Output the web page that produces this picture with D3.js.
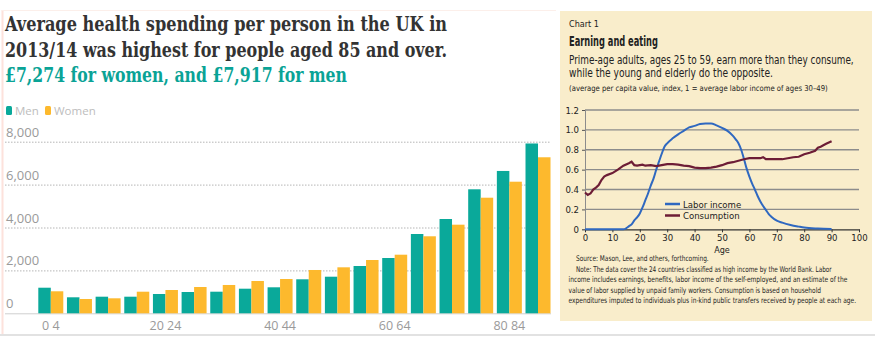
<!DOCTYPE html>
<html>
<head>
<meta charset="utf-8">
<script src="https://cdn.jsdelivr.net/npm/d3@7"></script>
<style>
  body { margin: 0; background: #fff; }
  svg { display: block; }
</style>
</head>
<body>
<svg class="chart"></svg>
<script>
// left chart: UK health spending by age group
var ageGroups = ["0-4","5-9","10-14","15-19","20-24","25-29","30-34","35-39","40-44",
                 "45-49","50-54","55-59","60-64","65-69","70-74","75-79","80-84","85+"];
var menSpend   = [1193, 746, 774, 774, 900, 993, 1007, 1147, 1212,
                  1585, 1706, 2205, 2578, 3697, 4396, 5781, 6636, 7917];
var womenSpend = [1026, 667, 699, 1007, 1086, 1226, 1320, 1506, 1599,
                  2019, 2144, 2485, 2732, 3590, 4131, 5389, 6135, 7274];
var spendTicks = [0, 2000, 4000, 6000, 8000];
var ageTickLabels = {"0-4": "0 4", "20-24": "20 24", "40-44": "40 44", "60-64": "60 64", "80-84": "80 84"};
var seriesNames = ["Men", "Women"];

// right chart: labor income and consumption by age
var laborAge    = [0, 14, 15, 16, 17, 18, 19, 20, 21, 22, 23, 24, 25, 26, 27, 28, 29, 30, 32, 34, 36, 38,
                   40, 42, 44, 46, 48, 50, 52, 54, 55, 56, 57, 58, 59, 60, 61, 62, 63, 64, 65, 66,
                   67, 68, 70, 72, 75, 78, 80, 85, 90];
var laborIncome = [0, 0, 0.01, 0.03, 0.05, 0.09, 0.12, 0.16, 0.22, 0.29, 0.36, 0.44, 0.51, 0.60, 0.68,
                   0.76, 0.83, 0.865, 0.915, 0.955, 0.99, 1.025, 1.04, 1.06, 1.065, 1.065, 1.045, 1.02,
                   0.99, 0.94, 0.905, 0.865, 0.80, 0.71, 0.61, 0.53, 0.46, 0.40, 0.335, 0.28, 0.235,
                   0.195, 0.155, 0.127, 0.087, 0.067, 0.044, 0.027, 0.017, 0.007, 0.003];
var consAge     = [0, 1, 2, 3, 4, 5, 6, 7, 8, 10, 12, 14, 16, 17, 18, 19, 20, 21, 22, 24, 26, 28, 30,
                   32, 34, 36, 38, 40, 42, 44, 46, 48, 50, 52, 54, 56, 58, 60, 62, 64, 65, 66, 68,
                   70, 72, 74, 76, 78, 80, 82, 84, 85, 86, 88, 90];
var consumption = [0.37, 0.345, 0.36, 0.40, 0.42, 0.445, 0.495, 0.53, 0.545, 0.565, 0.60, 0.64, 0.665,
                   0.68, 0.645, 0.64, 0.645, 0.65, 0.64, 0.645, 0.635, 0.645, 0.655, 0.655, 0.65, 0.64,
                   0.635, 0.62, 0.615, 0.615, 0.62, 0.63, 0.645, 0.665, 0.675, 0.69, 0.705, 0.715,
                   0.715, 0.715, 0.725, 0.705, 0.705, 0.705, 0.705, 0.715, 0.725, 0.73, 0.755, 0.77,
                   0.79, 0.82, 0.83, 0.86, 0.885];
var indexTicks = [0, 0.2, 0.4, 0.6, 0.8, 1.0, 1.2];
var ageTicks = [0, 10, 20, 30, 40, 50, 60, 70, 80, 90, 100];

var screen = { //the size of svg
  width: 875,
  height: 340
}

var svg = d3.select(".chart")
            .attr("width", screen.width)
            .attr("height", screen.height)

// squeeze a text sideways so it takes the width the reference gives it
var fitWidth = function(sel)
{
  sel.each(function(d) {
    var w = this.getComputedTextLength();
    d3.select(this)
      .attr("transform", "translate(" + d.x + "," + d.y + ") scale(" + (d.len / w) + ",1)");
  });
}

var drawSpendingChart = function()
{
  var colors = d3.scaleOrdinal()
                 .domain(seriesNames)
                 .range(["#0aa99a", "#fdb92d"]);

  var xScale = d3.scaleBand()
                 .domain(ageGroups)
                 .range([38.3, 550.5])
                 .paddingInner(0.128);

  var subScale = d3.scaleBand()
                   .domain(seriesNames)
                   .range([0, xScale.bandwidth()]);

  var yScale = d3.scaleLinear()
                 .domain([0, 8000])
                 .range([313.3, 141.7]);

  // frame lines round the left panel
  svg.append("line")
     .attr("x1", 2.5).attr("x2", 2.5).attr("y1", 10).attr("y2", 335)
     .attr("stroke", "#fde2dc").attr("stroke-width", 2);
  svg.append("line")
     .attr("x1", 2).attr("x2", 556).attr("y1", 10.5).attr("y2", 10.5)
     .attr("stroke", "#fcefea").attr("stroke-width", 1);
  svg.append("line")
     .attr("x1", 0).attr("x2", 875).attr("y1", 335).attr("y2", 335)
     .attr("stroke", "#e2e2e2").attr("stroke-width", 2);

  // titles
  var titles = [
    {text: "Average health spending per person in the UK in", y: 31, fill: "#333", len: 442},
    {text: "2013/14 was highest for people aged 85 and over.", y: 57, fill: "#333", len: 442},
    {text: "£7,274 for women, and £7,917 for men", y: 82, fill: "#0aa396", len: 342}
  ];
  svg.append("g")
     .selectAll("text")
     .data(titles)
     .enter()
     .append("text")
     .attr("x", 5)
     .attr("y", function(d) {return d.y;})
     .attr("fill", function(d) {return d.fill;})
     .attr("textLength", function(d) {return d.len;})
     .attr("lengthAdjust", "spacingAndGlyphs")
     .style("font-family", "'DejaVu Serif Condensed', 'DejaVu Serif', serif")
     .style("font-weight", "bold")
     .style("font-size", "20px")
     .text(function(d) {return d.text;});

  // legend
  var legend = svg.append("g")
                  .selectAll("g")
                  .data(seriesNames)
                  .enter()
                  .append("g")
                  .attr("transform", function(d, i) {return "translate(" + (6 + i * 39) + ",0)";});
  legend.append("rect")
        .attr("x", 0).attr("y", 106).attr("width", 6).attr("height", 9).attr("rx", 1.5)
        .attr("fill", function(d) {return colors(d);});
  legend.append("text")
        .attr("x", 9).attr("y", 115)
        .attr("fill", "#bdbdbd")
        .style("font-family", "'Open Sans', sans-serif")
        .style("font-size", "11.5px")
        .text(function(d) {return d;});

  // gridlines and y labels
  var grid = svg.append("g")
                .classed("grid", true)
                .selectAll("g")
                .data(spendTicks)
                .enter()
                .append("g");
  grid.append("line")
      .attr("x1", 5).attr("x2", 551)
      .attr("y1", function(d) {return yScale(d) + 0.5;})
      .attr("y2", function(d) {return yScale(d) + 0.5;})
      .attr("stroke", function(d) {return d == 0 ? "#cfcfcf" : "#b5b5b5";})
      .attr("stroke-dasharray", function(d) {return d == 0 ? null : "1.5,1.5";});
  grid.append("text")
      .attr("x", 6)
      .attr("y", function(d) {return yScale(d) - 5;})
      .attr("fill", "#9a9a9a")
      .style("font-family", "'Open Sans', sans-serif")
      .style("font-size", "13px")
      .text(function(d) {return d3.format(",")(d);});

  // bars
  var groups = svg.append("g")
                  .classed("bars", true)
                  .selectAll("g")
                  .data(ageGroups)
                  .enter()
                  .append("g")
                  .attr("transform", function(d) {return "translate(" + xScale(d) + ",0)";});
  groups.selectAll("rect")
        .data(function(d, i) {return [{key: "Men", value: menSpend[i]}, {key: "Women", value: womenSpend[i]}];})
        .enter()
        .append("rect")
        .attr("x", function(d) {return subScale(d.key);})
        .attr("y", function(d) {return yScale(d.value);})
        .attr("width", subScale.bandwidth())
        .attr("height", function(d) {return yScale(0) - yScale(d.value);})
        .attr("fill", function(d) {return colors(d.key);});

  // x labels (every fourth group)
  var xAxis = d3.axisBottom(xScale)
                .tickValues(Object.keys(ageTickLabels))
                .tickFormat(function(d) {return ageTickLabels[d];})
                .tickSize(0)
                .tickPadding(8);
  var xg = svg.append("g")
              .attr("transform", "translate(0,313.3)")
              .call(xAxis);
  xg.select(".domain").remove();
  xg.selectAll("text")
    .attr("fill", "#9a9a9a")
    .style("font-family", "'Open Sans', sans-serif")
    .style("font-size", "12.5px");
}

var drawEarningChart = function()
{
  var xScale = d3.scaleLinear()
                 .domain([0, 100])
                 .range([585, 859]);

  var yScale = d3.scaleLinear()
                 .domain([0, 1.2])
                 .range([229.3, 110]);

  var font = "'Liberation Sans Narrow', 'DejaVu Sans Condensed', sans-serif";

  svg.append("rect")
     .attr("x", 560).attr("y", 11).attr("width", 312).attr("height", 310)
     .attr("fill", "#f9edcb");

  var heads = [
    {text: "Chart 1", x: 569, y: 27, size: 8.5, weight: "normal", len: 30},
    {text: "Earning and eating", x: 569, y: 46, size: 14, weight: "bold", len: 89},
    {text: "Prime-age adults, ages 25 to 59, earn more than they consume,", x: 569, y: 64, size: 11.5, weight: "normal", len: 285},
    {text: "while the young and elderly do the opposite.", x: 569, y: 76.5, size: 11.5, weight: "normal", len: 204},
    {text: "(average per capita value, index, 1 = average labor income of ages 30\u201349)", x: 569, y: 91, size: 8, weight: "normal", len: 259}
  ];
  svg.append("g")
     .selectAll("text")
     .data(heads)
     .enter()
     .append("text")
     .attr("fill", "#222")
     .style("font-family", font)
     .style("font-size", function(d) {return d.size + "px";})
     .style("font-weight", function(d) {return d.weight;})
     .text(function(d) {return d.text;})
     .call(fitWidth);

  // gridlines
  svg.append("g")
     .selectAll("line")
     .data(indexTicks.slice(1))
     .enter()
     .append("line")
     .attr("x1", xScale(0)).attr("x2", xScale(100))
     .attr("y1", function(d) {return yScale(d);})
     .attr("y2", function(d) {return yScale(d);})
     .attr("stroke", "#8c8c8c")
     .attr("stroke-width", 1.4);

  // y-axis
  var yAxis = d3.axisLeft(yScale)
                .tickValues(indexTicks)
                .tickFormat(function(d) {return d == 0 ? "0" : d3.format(".1f")(d);})
                .tickSize(3);
  var yg = svg.append("g")
              .attr("transform", "translate(" + xScale(0) + ",0)")
              .call(yAxis);
  yg.select(".domain").attr("stroke", "#8c8c8c");
  yg.selectAll(".tick line").attr("stroke", "#555");
  yg.selectAll("text").attr("fill", "#222").style("font-family", font).style("font-size", "9.5px");

  // x-axis
  var xAxis = d3.axisBottom(xScale)
                .tickValues(ageTicks)
                .tickSize(3)
                .tickSizeOuter(0)
                .tickPadding(2);
  var xg = svg.append("g")
              .attr("transform", "translate(0," + yScale(0) + ")")
              .call(xAxis);
  xg.select(".domain").attr("stroke", "#333").attr("stroke-width", 1.3);
  xg.selectAll(".tick line").attr("stroke", "#333");
  xg.selectAll("text").attr("fill", "#222").style("font-family", font).style("font-size", "9.5px");

  svg.append("text")
     .attr("x", xScale(50)).attr("y", 253)
     .attr("text-anchor", "middle")
     .attr("fill", "#222")
     .style("font-family", font)
     .style("font-size", "9px")
     .text("Age");

  // lines
  var laborLine = d3.line()
                    .x(function(d, i) {return xScale(laborAge[i]);})
                    .y(function(d) {return yScale(d);})
                    .curve(d3.curveMonotoneX);
  var consLine = d3.line()
                   .x(function(d, i) {return xScale(consAge[i]);})
                   .y(function(d) {return yScale(d);});

  svg.append("path")
     .datum(laborIncome)
     .attr("d", laborLine)
     .attr("fill", "none")
     .attr("stroke", "#2f68c0")
     .attr("stroke-width", 2);
  svg.append("path")
     .datum(consumption)
     .attr("d", consLine)
     .attr("fill", "none")
     .attr("stroke", "#6d1d36")
     .attr("stroke-width", 2.2);

  // legend
  var keys = [{name: "Labor income", color: "#2f68c0", y: 204}, {name: "Consumption", color: "#6d1d36", y: 215.5}];
  var lg = svg.append("g")
              .selectAll("g")
              .data(keys)
              .enter()
              .append("g");
  lg.append("line")
    .attr("x1", 665).attr("x2", 680)
    .attr("y1", function(d) {return d.y;})
    .attr("y2", function(d) {return d.y;})
    .attr("stroke", function(d) {return d.color;})
    .attr("stroke-width", 2.5);
  lg.append("text")
    .attr("x", 683)
    .attr("y", function(d) {return d.y + 3.5;})
    .attr("fill", "#222")
    .style("font-family", font)
    .style("font-size", "9.5px")
    .text(function(d) {return d.name;});

  // source and note
  var notes = [
    {text: "Source: Mason, Lee, and others, forthcoming.", x: 576, y: 261, len: 133},
    {text: "Note: The data cover the 24 countries classified as high income by the World Bank. Labor", x: 576, y: 271.5, len: 256},
    {text: "income includes earnings, benefits, labor income of the self-employed, and an estimate of the", x: 568.5, y: 282, len: 279},
    {text: "value of labor supplied by unpaid family workers. Consumption is based on household", x: 568.5, y: 292.5, len: 253},
    {text: "expenditures imputed to individuals plus in-kind public transfers received by people at each age.", x: 568.5, y: 303, len: 288}
  ];
  svg.append("g")
     .selectAll("text")
     .data(notes)
     .enter()
     .append("text")
     .attr("fill", "#222")
     .style("font-family", font)
     .style("font-size", "7.8px")
     .text(function(d) {return d.text;})
     .call(fitWidth);
}

drawSpendingChart();
drawEarningChart();
</script>
</body>
</html>
